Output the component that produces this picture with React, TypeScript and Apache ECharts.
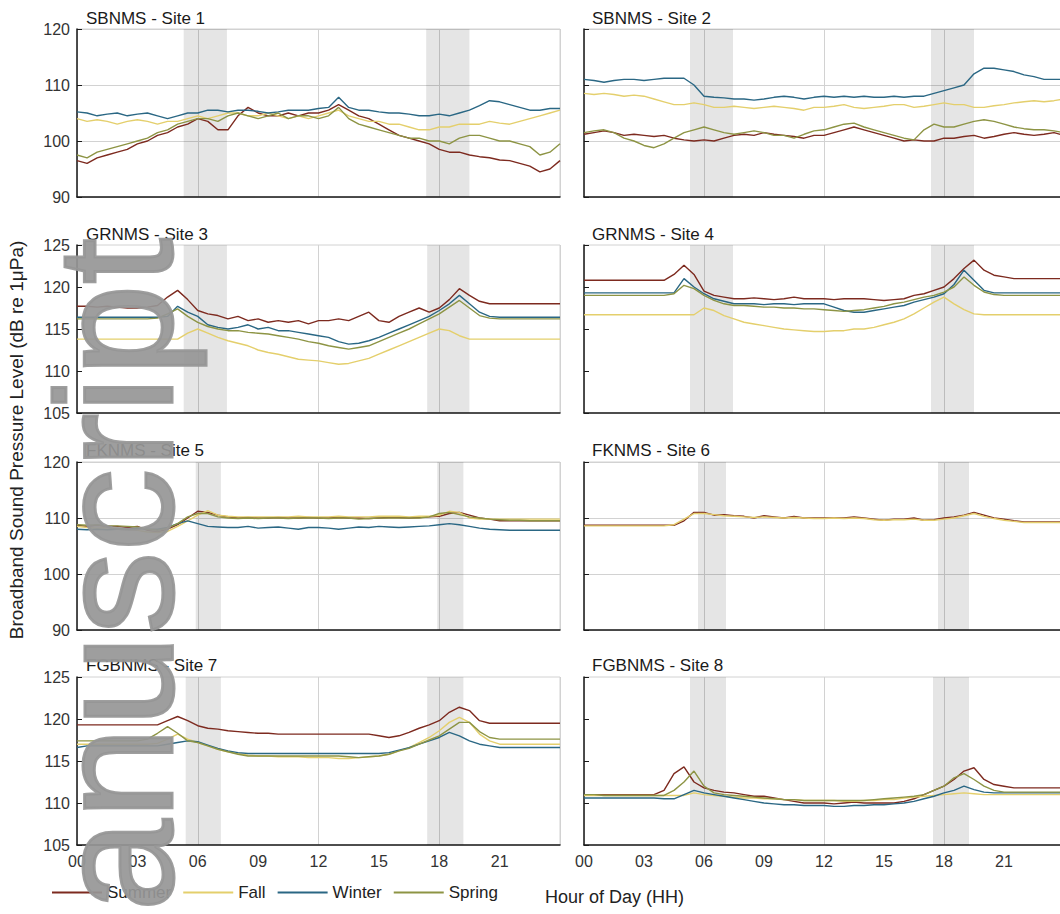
import React, { useEffect, useRef } from "react";
import * as echarts from "echarts";

// ---------- DATA ----------
const HOURS = [
  0, 0.5, 1, 1.5, 2, 2.5, 3, 3.5,
  4, 4.5, 5, 5.5, 6, 6.5, 7, 7.5,
  8, 8.5, 9, 9.5, 10, 10.5, 11, 11.5,
  12, 12.5, 13, 13.5, 14, 14.5, 15, 15.5,
  16, 16.5, 17, 17.5, 18, 18.5, 19, 19.5,
  20, 20.5, 21, 21.5, 22, 22.5, 23, 23.5,
  24,
];

const X_TICK_LABELS = ["00", "03", "06", "09", "12", "15", "18", "21"];
const SEASONS = ["Summer", "Fall", "Winter", "Spring"];
const SEASON_COLORS = ["#7d2a1f", "#e4cf6c", "#2a6784", "#8d9444"];
const SITE_TITLES = [
  "SBNMS - Site 1", "SBNMS - Site 2",
  "GRNMS - Site 3", "GRNMS - Site 4",
  "FKNMS - Site 5", "FKNMS - Site 6",
  "FGBNMS - Site 7", "FGBNMS - Site 8",
];
const Y_MIN = [90, 105, 90, 105];
const Y_MAX = [120, 125, 120, 125];
const Y_STEP = [10, 5, 10, 5];
const Y_GRID = [true, false, true, false];
const Y_TITLE = "Broadband Sound Pressure Level (dB re 1\u03bcPa)";
const X_TITLE = "Hour of Day (HH)";
const WATERMARK = "anuscript";

// shaded sunrise / sunset periods (hours)
const BANDS_S1 = [[5.3, 7.45], [17.35, 19.5]];
const BANDS_S2 = [[5.3, 7.45], [17.35, 19.5]];
const BANDS_S3 = [[5.3, 7.45], [17.4, 19.5]];
const BANDS_S4 = [[5.3, 7.45], [17.35, 19.5]];
const BANDS_S5 = [[5.9, 7.15], [17.9, 19.2]];
const BANDS_S6 = [[5.7, 7.1], [17.7, 19.25]];
const BANDS_S7 = [[5.4, 7.15], [17.4, 19.2]];
const BANDS_S8 = [[5.3, 7.1], [17.45, 19.25]];

// Site 1
const S1_SUMMER = [
  96.5, 96.0, 97.0, 97.5, 98.0, 98.5, 99.5, 100.0,
  101.0, 101.5, 102.5, 103.0, 104.0, 103.5, 102.0, 102.0,
  104.5, 106.0, 105.0, 104.5, 104.5, 105.0, 104.5, 105.0,
  105.0, 105.5, 106.5, 105.5, 104.5, 104.0, 103.0, 102.0,
  101.0, 100.5, 100.0, 99.5, 98.5, 98.0, 98.0, 97.5,
  97.2, 97.0, 96.6, 96.5, 96.0, 95.5, 94.5, 95.0,
  96.5,
];
const S1_FALL = [
  104.0, 103.5, 103.8, 103.5, 103.0, 103.5, 103.8, 103.5,
  103.0, 103.5, 103.5, 104.0, 104.5, 104.0, 104.5, 105.0,
  105.0, 104.5, 104.5, 105.0, 104.5, 104.0, 104.5, 104.0,
  104.5, 105.0, 105.5, 104.5, 104.0, 103.5, 103.5, 103.0,
  103.0, 102.5, 102.0, 102.0, 102.5, 102.5, 103.0, 103.0,
  103.0, 103.5, 103.2, 103.0, 103.5, 104.0, 104.5, 105.0,
  105.5,
];
const S1_WINTER = [
  105.2, 105.0, 104.5, 104.8, 105.0, 104.5, 104.8, 105.0,
  104.5, 104.0, 104.5, 105.0, 105.0, 105.5, 105.5, 105.2,
  105.5, 105.5, 105.3, 105.0, 105.2, 105.5, 105.5, 105.5,
  105.8, 106.0, 107.8, 106.0, 105.5, 105.5, 105.2, 105.0,
  105.0, 104.8, 104.5, 104.5, 104.8, 104.5, 105.0, 105.5,
  106.3, 107.2, 107.0, 106.5, 106.0, 105.5, 105.5, 105.8,
  105.8,
];
const S1_SPRING = [
  97.5, 97.0, 98.0, 98.5, 99.0, 99.5, 100.0, 100.5,
  101.5, 102.0, 103.0, 103.5, 104.0, 104.0, 103.5, 104.5,
  105.0, 104.5, 104.0, 104.5, 105.0, 104.0, 104.5, 104.5,
  104.0, 104.5, 106.0, 104.0, 103.0, 102.5, 102.0, 101.5,
  101.0, 100.5, 100.5, 100.0, 100.0, 99.5, 100.5, 101.0,
  101.0, 100.5, 100.0, 100.0, 99.5, 99.0, 97.5, 98.0,
  99.5,
];

// Site 2
const S2_SUMMER = [
  101.2, 101.5, 101.8, 101.5, 101.0, 101.2, 101.0, 100.8,
  101.0, 100.5, 100.2, 100.0, 100.2, 100.0, 100.5, 101.0,
  101.2, 101.0, 101.5, 101.2, 101.0, 100.8, 100.5, 101.0,
  101.0, 101.5, 102.0, 102.5, 102.0, 101.5, 101.0, 100.5,
  100.0, 100.2, 100.0, 100.0, 100.5, 100.5, 100.8, 101.0,
  100.5, 100.8, 101.2, 101.5, 101.2, 101.0, 101.2, 101.5,
  101.0,
];
const S2_FALL = [
  108.5, 108.3, 108.5, 108.3, 108.0, 108.2, 108.0, 107.5,
  107.0, 106.5, 106.5, 106.8, 106.5, 106.0, 106.0, 106.2,
  106.0, 105.8, 106.0, 106.2, 106.0, 105.8, 105.5, 106.0,
  106.0, 106.2, 106.5, 106.0, 105.8, 106.0, 106.2, 106.5,
  106.5, 106.0, 106.2, 106.5, 106.8, 106.5, 106.5, 106.0,
  106.0, 106.3, 106.5, 106.8, 107.0, 107.2, 107.0, 107.2,
  107.5,
];
const S2_WINTER = [
  111.0, 110.8, 110.5, 110.8, 111.0, 111.0, 110.8, 111.0,
  111.2, 111.2, 111.2, 110.0, 108.0, 107.8, 107.7, 107.5,
  107.5, 107.3, 107.5, 107.8, 108.0, 107.8, 107.5, 107.8,
  108.0, 107.8, 108.0, 107.8, 108.0, 107.8, 107.8, 108.0,
  107.8, 108.0, 108.0, 108.5, 109.0, 109.5, 110.0, 112.0,
  113.0, 113.0, 112.7, 112.4, 111.8, 111.5, 111.0, 111.0,
  111.0,
];
const S2_SPRING = [
  101.5, 101.8, 102.0, 101.5, 100.5, 100.0, 99.2, 98.8,
  99.5, 100.5, 101.5, 102.0, 102.5, 102.0, 101.5, 101.2,
  101.5, 101.8, 101.5, 101.0, 101.0, 100.5, 101.2, 101.8,
  102.0, 102.5, 103.0, 103.2, 102.5, 102.0, 101.5, 101.0,
  100.5, 100.2, 102.0, 103.0, 102.5, 102.5, 103.0, 103.5,
  103.8, 103.5, 103.0, 102.5, 102.2, 102.0, 102.0, 101.8,
  101.5,
];

// Site 3
const S3_SUMMER = [
  117.7, 117.7, 117.6, 117.7, 117.6, 117.5, 117.5, 117.6,
  117.8, 118.8, 119.6, 118.5, 117.2, 116.8, 116.6, 116.2,
  116.5, 116.0, 116.2, 115.8, 116.0, 115.8, 116.0, 115.6,
  116.0, 116.0, 116.2, 116.0, 116.5, 117.0, 116.0, 115.8,
  116.5, 117.0, 117.5, 117.0, 117.5, 118.5, 119.8, 119.0,
  118.3, 118.0, 118.0, 118.0, 118.0, 118.0, 118.0, 118.0,
  118.0,
];
const S3_FALL = [
  113.8, 113.8, 113.8, 113.8, 113.8, 113.8, 113.8, 113.8,
  113.8, 113.8, 113.8, 114.5, 115.0, 114.5, 114.0, 113.6,
  113.3, 113.0, 112.5, 112.2, 112.0, 111.7, 111.4, 111.3,
  111.2, 111.0, 110.8, 110.9, 111.2, 111.5, 112.0, 112.5,
  113.0, 113.5, 114.0, 114.5, 115.0, 114.8, 114.2, 113.8,
  113.8, 113.8, 113.8, 113.8, 113.8, 113.8, 113.8, 113.8,
  113.8,
];
const S3_WINTER = [
  116.4, 116.4, 116.4, 116.4, 116.4, 116.4, 116.4, 116.4,
  116.4, 116.5, 117.7, 117.0, 116.5, 115.5, 115.2, 115.0,
  115.2, 115.5, 115.0, 115.2, 114.8, 114.8, 114.6, 114.4,
  114.2, 114.0, 113.5, 113.2, 113.3, 113.6, 114.0, 114.5,
  115.0, 115.5, 116.0, 116.5, 117.2, 118.0, 119.0, 118.0,
  117.0, 116.5, 116.4, 116.4, 116.4, 116.4, 116.4, 116.4,
  116.4,
];
const S3_SPRING = [
  116.2, 116.2, 116.2, 116.2, 116.2, 116.2, 116.2, 116.2,
  116.3, 116.8, 117.4, 116.5, 115.8, 115.3, 115.0, 114.8,
  114.8, 114.6, 114.5, 114.4, 114.2, 114.0, 113.8, 113.5,
  113.3, 113.0, 112.8, 112.6, 112.8, 113.0, 113.5, 114.0,
  114.5, 115.0, 115.6, 116.2, 116.8, 117.6, 118.4, 117.5,
  116.6, 116.3, 116.2, 116.2, 116.2, 116.2, 116.2, 116.2,
  116.2,
];

// Site 4
const S4_SUMMER = [
  120.8, 120.8, 120.8, 120.8, 120.8, 120.8, 120.8, 120.8,
  120.8, 121.5, 122.6, 121.5, 119.5, 119.0, 118.8, 118.6,
  118.6, 118.7, 118.6, 118.5, 118.6, 118.8, 118.6, 118.6,
  118.6, 118.5, 118.6, 118.6, 118.6, 118.5, 118.4, 118.5,
  118.6, 119.0, 119.2, 119.6, 120.0, 121.0, 122.2, 123.2,
  122.0, 121.4, 121.2, 121.0, 121.0, 121.0, 121.0, 121.0,
  121.0,
];
const S4_FALL = [
  116.7, 116.7, 116.7, 116.7, 116.7, 116.7, 116.7, 116.7,
  116.7, 116.7, 116.7, 116.7, 117.5, 117.2, 116.6, 116.2,
  115.8, 115.6, 115.4, 115.2, 115.0, 114.9, 114.8, 114.7,
  114.7, 114.8, 114.8, 115.0, 115.0, 115.2, 115.5, 115.8,
  116.2, 116.8, 117.5, 118.2, 118.8, 118.0, 117.3, 116.8,
  116.7, 116.7, 116.7, 116.7, 116.7, 116.7, 116.7, 116.7,
  116.7,
];
const S4_WINTER = [
  119.3, 119.3, 119.3, 119.3, 119.3, 119.3, 119.3, 119.3,
  119.3, 119.3, 121.0, 120.0, 119.2, 118.6, 118.3, 118.0,
  118.0, 118.0, 117.9, 118.0, 118.0, 117.9, 118.0, 118.0,
  118.0, 117.6, 117.2, 117.0, 117.0, 117.2, 117.4, 117.6,
  117.8, 118.2, 118.5, 118.8, 119.2, 120.3, 122.0, 120.8,
  119.6, 119.3, 119.3, 119.3, 119.3, 119.3, 119.3, 119.3,
  119.3,
];
const S4_SPRING = [
  119.0, 119.0, 119.0, 119.0, 119.0, 119.0, 119.0, 119.0,
  119.0, 119.2, 120.2, 119.8, 119.0, 118.4, 118.0, 117.8,
  117.8, 117.7, 117.6, 117.6, 117.5, 117.5, 117.4, 117.4,
  117.3, 117.2, 117.1, 117.2, 117.3, 117.5, 117.7, 118.0,
  118.2, 118.5, 118.8, 119.0, 119.4, 120.0, 121.2, 120.2,
  119.4, 119.1, 119.0, 119.0, 119.0, 119.0, 119.0, 119.0,
  119.0,
];

// Site 5
const S5_SUMMER = [
  108.7, 108.5, 108.7, 108.5, 108.5, 108.3, 108.5, 107.8,
  107.5, 108.0, 108.8, 110.0, 111.2, 111.0, 110.5, 110.2,
  110.0, 110.1, 110.0, 110.0, 110.1, 110.0, 110.0, 110.1,
  110.0, 110.0, 110.1, 110.0, 110.0, 109.9, 110.0, 110.1,
  110.1, 110.0, 110.1, 110.2, 110.3, 110.8, 111.0, 110.5,
  110.0, 109.8, 109.5, 109.5, 109.5, 109.5, 109.5, 109.5,
  109.5,
];
const S5_FALL = [
  108.5, 108.3, 108.2, 108.3, 108.0, 108.0, 107.8, 107.5,
  107.4, 107.6, 108.5, 109.5, 110.5, 111.3, 110.5, 110.3,
  110.2, 110.2, 110.2, 110.2, 110.2, 110.2, 110.3, 110.2,
  110.2, 110.2, 110.3, 110.2, 110.2, 110.2, 110.3, 110.3,
  110.3, 110.2, 110.3, 110.3, 110.5, 111.2, 111.0, 110.0,
  109.8, 109.8, 109.8, 109.8, 109.8, 109.8, 109.8, 109.8,
  109.8,
];
const S5_WINTER = [
  108.0, 107.9, 108.0, 107.9, 108.0, 108.0, 108.2, 108.0,
  108.0, 108.3, 109.0, 109.5, 109.0, 108.5, 108.4, 108.3,
  108.3, 108.5, 108.2, 108.3, 108.4, 108.2, 108.0, 108.3,
  108.3, 108.2, 108.0, 108.2, 108.4, 108.3, 108.5, 108.4,
  108.3, 108.4, 108.5, 108.6, 108.8, 109.0, 108.8, 108.5,
  108.2, 108.0, 107.9, 107.8, 107.8, 107.8, 107.8, 107.8,
  107.8,
];
const S5_SPRING = [
  108.8, 108.7, 108.8, 108.6, 108.6, 108.5, 108.4, 108.0,
  107.8, 108.2, 109.0, 110.2, 110.8, 110.8, 110.2, 110.0,
  109.9, 110.0, 109.9, 110.0, 110.0, 109.9, 110.0, 110.0,
  110.0, 109.9, 110.0, 110.0, 109.8, 109.9, 110.0, 110.0,
  110.0, 110.0, 110.0, 110.2, 110.8, 111.0, 110.6, 110.2,
  110.0, 109.8, 109.7, 109.6, 109.6, 109.5, 109.5, 109.5,
  109.5,
];

// Site 6
const S6_SUMMER = [
  108.7, 108.7, 108.7, 108.7, 108.7, 108.7, 108.7, 108.7,
  108.7, 108.7, 109.5, 111.0, 111.0, 110.5, 110.6, 110.4,
  110.3, 110.0, 110.4, 110.2, 110.0, 110.3, 110.0, 110.0,
  110.0, 110.0, 110.0, 110.2, 110.0, 109.8, 109.6, 109.8,
  109.8, 110.0, 109.6, 109.7, 110.0, 110.2, 110.5, 111.0,
  110.5, 110.0, 109.8, 109.5, 109.3, 109.3, 109.3, 109.3,
  109.3,
];
const S6_FALL = [
  108.6, 108.6, 108.6, 108.6, 108.6, 108.6, 108.6, 108.6,
  108.6, 108.8, 109.8, 110.8, 110.8, 110.6, 110.4, 110.3,
  110.2, 110.1, 110.2, 110.1, 110.0, 110.1, 110.0, 109.9,
  109.9, 110.0, 109.9, 110.0, 109.9, 109.7, 109.6, 109.7,
  109.7, 109.8, 109.6, 109.6, 109.8, 110.0, 110.4, 110.8,
  110.3, 109.9, 109.6, 109.4, 109.2, 109.2, 109.2, 109.2,
  109.2,
];

// Site 7
const S7_SUMMER = [
  119.3, 119.3, 119.3, 119.3, 119.3, 119.3, 119.3, 119.3,
  119.3, 119.8, 120.3, 119.8, 119.2, 118.9, 118.8, 118.6,
  118.5, 118.4, 118.3, 118.3, 118.2, 118.2, 118.2, 118.2,
  118.2, 118.2, 118.2, 118.2, 118.2, 118.2, 118.0, 117.8,
  118.0, 118.4, 118.9, 119.3, 119.8, 120.8, 121.4, 121.0,
  119.8, 119.5, 119.5, 119.5, 119.5, 119.5, 119.5, 119.5,
  119.5,
];
const S7_FALL = [
  117.0, 117.0, 117.0, 117.0, 117.0, 117.0, 117.0, 117.0,
  117.1, 117.6, 118.2, 117.6, 117.2, 116.8, 116.4, 116.1,
  115.9, 115.7, 115.6, 115.6, 115.5, 115.5, 115.5, 115.4,
  115.4, 115.4, 115.3, 115.3, 115.4, 115.5, 115.6, 115.8,
  116.2, 116.6, 117.2, 117.8, 118.6, 119.6, 120.2, 119.6,
  118.2, 117.4, 117.0, 117.0, 117.0, 117.0, 117.0, 117.0,
  117.0,
];
const S7_WINTER = [
  116.6, 116.8, 116.8, 116.8, 116.8, 116.8, 116.8, 116.8,
  116.8, 117.0, 117.2, 117.4, 117.3, 116.9, 116.5, 116.2,
  116.0, 115.9, 115.9, 115.9, 115.9, 115.9, 115.9, 115.9,
  115.9, 115.9, 115.9, 115.9, 115.9, 115.9, 115.9, 116.0,
  116.3, 116.6, 117.0, 117.4, 117.8, 118.4, 118.0, 117.4,
  117.0, 116.8, 116.6, 116.6, 116.6, 116.6, 116.6, 116.6,
  116.6,
];
const S7_SPRING = [
  117.4, 117.4, 117.4, 117.4, 117.4, 117.4, 117.4, 117.6,
  118.3, 119.1, 118.3, 117.4, 117.2, 116.8, 116.4, 116.1,
  115.8, 115.6, 115.6, 115.6, 115.6, 115.6, 115.6, 115.6,
  115.6, 115.6, 115.6, 115.5, 115.4, 115.5, 115.6, 115.8,
  116.2, 116.5, 117.0, 117.5, 118.0, 118.8, 119.6, 119.6,
  118.5, 117.8, 117.6, 117.6, 117.6, 117.6, 117.6, 117.6,
  117.6,
];

// Site 8
const S8_SUMMER = [
  111.0, 111.0, 111.0, 111.0, 111.0, 111.0, 111.0, 111.0,
  111.5, 113.5, 114.3, 112.5, 111.8, 111.5, 111.3, 111.2,
  111.0, 110.8, 110.8, 110.6, 110.4, 110.2, 110.0, 110.0,
  110.0, 109.9, 110.0, 110.1, 110.0, 110.0, 110.0, 110.0,
  110.2, 110.5, 111.0, 111.5, 112.0, 112.8, 113.8, 114.2,
  112.8, 112.2, 112.0, 111.8, 111.8, 111.8, 111.8, 111.8,
  111.8,
];
const S8_FALL = [
  110.9, 110.9, 110.9, 110.9, 110.9, 110.9, 110.9, 110.9,
  110.9, 110.9, 110.9, 111.2, 111.0, 110.9, 110.8, 110.7,
  110.6, 110.6, 110.5, 110.5, 110.4, 110.4, 110.3, 110.3,
  110.3, 110.3, 110.2, 110.2, 110.3, 110.3, 110.4, 110.4,
  110.6, 110.7, 110.8, 110.9, 111.0, 111.1, 111.2, 111.1,
  111.0, 111.0, 111.0, 111.0, 111.0, 111.0, 111.0, 111.0,
  111.0,
];
const S8_WINTER = [
  110.6, 110.6, 110.6, 110.6, 110.6, 110.6, 110.6, 110.6,
  110.5, 110.5, 111.0, 111.5, 111.2, 111.0, 110.8, 110.6,
  110.4, 110.2, 110.0, 109.9, 109.8, 109.8, 109.7, 109.7,
  109.7, 109.6, 109.6, 109.7, 109.7, 109.8, 109.8, 109.9,
  110.0, 110.2, 110.5, 110.8, 111.2, 111.5, 112.0, 111.6,
  111.3, 111.2, 111.2, 111.2, 111.2, 111.2, 111.2, 111.2,
  111.2,
];
const S8_SPRING = [
  111.0, 111.0, 110.9, 110.9, 110.9, 110.9, 110.9, 110.9,
  110.9, 111.5, 112.5, 113.8, 112.0, 111.2, 111.0, 110.9,
  110.8, 110.7, 110.6, 110.5, 110.4, 110.4, 110.3, 110.3,
  110.3, 110.3, 110.3, 110.3, 110.3, 110.4, 110.5, 110.6,
  110.7, 110.8, 111.0, 111.5, 112.0, 113.0, 113.5, 112.8,
  112.0, 111.5, 111.3, 111.3, 111.3, 111.3, 111.3, 111.3,
  111.3,
];

// ---------- LAYOUT ----------
const FONT = "'Liberation Sans', Arial, Helvetica, sans-serif";
const GRID_LEFT = [77, 584];
const GRID_W = [483, 480];
const GRID_TOP = [29, 245, 462, 677];
const GRID_H = 168;
const TITLE_TOP = [10, 226, 442, 657];
const TITLE_LEFT = [86, 592];

function buildOption() {
  const siteLines: (number[] | null)[][] = [
    [S1_SUMMER, S1_FALL, S1_WINTER, S1_SPRING],
    [S2_SUMMER, S2_FALL, S2_WINTER, S2_SPRING],
    [S3_SUMMER, S3_FALL, S3_WINTER, S3_SPRING],
    [S4_SUMMER, S4_FALL, S4_WINTER, S4_SPRING],
    [S5_SUMMER, S5_FALL, S5_WINTER, S5_SPRING],
    [S6_SUMMER, S6_FALL, null, null],
    [S7_SUMMER, S7_FALL, S7_WINTER, S7_SPRING],
    [S8_SUMMER, S8_FALL, S8_WINTER, S8_SPRING],
  ];
  const siteBands = [BANDS_S1, BANDS_S2, BANDS_S3, BANDS_S4, BANDS_S5, BANDS_S6, BANDS_S7, BANDS_S8];

  const grid: any[] = [];
  const xAxis: any[] = [];
  const yAxis: any[] = [];
  const series: any[] = [];
  const title: any[] = [];

  SITE_TITLES.forEach((name, p) => {
    const row = Math.floor(p / 2);
    const col = p % 2;
    grid.push({
      left: GRID_LEFT[col],
      top: GRID_TOP[row],
      width: GRID_W[col],
      height: GRID_H,
      show: true,
      borderColor: "#d2d2d2",
      borderWidth: 1,
      backgroundColor: "transparent",
    });
    title.push({
      text: name,
      left: TITLE_LEFT[col],
      top: TITLE_TOP[row],
      padding: 0,
      textStyle: { fontSize: 17, fontWeight: "normal", color: "#1a1a1a", fontFamily: FONT },
    });
    // label axis (every 3 h)
    xAxis.push({
      type: "value",
      gridIndex: p,
      min: 0,
      max: 24,
      interval: 3,
      position: "bottom",
      axisLine: { show: true, onZero: false, lineStyle: { color: "#1a1a1a", width: 1.5 } },
      axisTick: { show: false },
      splitLine: { show: false },
      axisLabel: {
        show: row === 3,
        showMaxLabel: false,
        fontSize: 16,
        color: "#333",
        fontFamily: FONT,
        margin: 8,
        formatter: (v: number) => X_TICK_LABELS[Math.round(v / 3)] ?? "",
      },
    });
    // grid axis (every 6 h)
    xAxis.push({
      type: "value",
      gridIndex: p,
      min: 0,
      max: 24,
      interval: 6,
      position: "bottom",
      axisLine: { show: false },
      axisTick: { show: false },
      axisLabel: { show: false },
      splitLine: { show: true, lineStyle: { color: "#d2d2d2", width: 1 } },
    });
    yAxis.push({
      type: "value",
      gridIndex: p,
      min: Y_MIN[row],
      max: Y_MAX[row],
      interval: Y_STEP[row],
      axisLine: { show: true, onZero: false, lineStyle: { color: "#1a1a1a", width: 1.5 } },
      axisTick: { show: true, inside: true, length: 5, lineStyle: { color: "#1a1a1a" } },
      splitLine: { show: Y_GRID[row], lineStyle: { color: "#d2d2d2", width: 1 } },
      axisLabel: { show: col === 0, fontSize: 16, color: "#333", fontFamily: FONT, margin: 7 },
    });

    let first = true;
    siteLines[p].forEach((vals, s) => {
      if (!vals) return;
      series.push({
        type: "line",
        name: SEASONS[s],
        xAxisIndex: 2 * p,
        yAxisIndex: p,
        data: HOURS.map((h, i) => [h, vals[i]]),
        showSymbol: false,
        symbol: "none",
        lineStyle: { color: SEASON_COLORS[s], width: 1.4 },
        itemStyle: { color: SEASON_COLORS[s] },
        markArea: first
          ? {
              silent: true,
              itemStyle: { color: "rgba(0,0,0,0.1)" },
              data: siteBands[p].map(([a, b]) => [{ xAxis: a }, { xAxis: b }]),
            }
          : undefined,
      });
      first = false;
    });
  });

  return {
    animation: false,
    backgroundColor: "#ffffff",
    textStyle: { fontFamily: FONT },
    title,
    grid,
    xAxis,
    yAxis,
    series,
    legend: {
      data: SEASONS,
      left: 52,
      top: 884,
      padding: 0,
      icon: "rect",
      itemWidth: 50,
      itemHeight: 2,
      itemGap: 12,
      selectedMode: false,
      textStyle: { fontSize: 17, color: "#222", fontFamily: FONT },
    },
    graphic: [
      {
        type: "text",
        x: 16,
        y: 440,
        rotation: Math.PI / 2,
        style: {
          text: Y_TITLE,
          fontSize: 19,
          fontFamily: FONT,
          fill: "#222",
          textAlign: "center",
          textVerticalAlign: "middle",
        },
      },
      {
        type: "text",
        x: 545,
        y: 897,
        style: {
          text: X_TITLE,
          fontSize: 18,
          fontFamily: FONT,
          fill: "#222",
          textAlign: "left",
          textVerticalAlign: "middle",
        },
      },
      {
        type: "text",
        x: 114,
        y: 238,
        z: 100,
        rotation: Math.PI / 2,
        silent: true,
        style: {
          text: WATERMARK,
          fontSize: 166,
          fontFamily: FONT,
          fill: "rgba(150,150,150,0.92)",
          stroke: "rgba(150,150,150,0.92)",
          lineWidth: 3,
          textAlign: "right",
          textVerticalAlign: "middle",
        },
      },
    ],
  };
}

export default function App() {
  const ref = useRef<HTMLDivElement>(null);
  useEffect(() => {
    if (!ref.current) return;
    const chart = echarts.init(ref.current, undefined, { renderer: "svg" });
    chart.setOption(buildOption() as any);
    return () => chart.dispose();
  }, []);
  return (
    <div
      ref={ref}
      style={{ position: "fixed", left: 0, top: 0, width: 1064, height: 914, background: "#fff" }}
    />
  );
}
